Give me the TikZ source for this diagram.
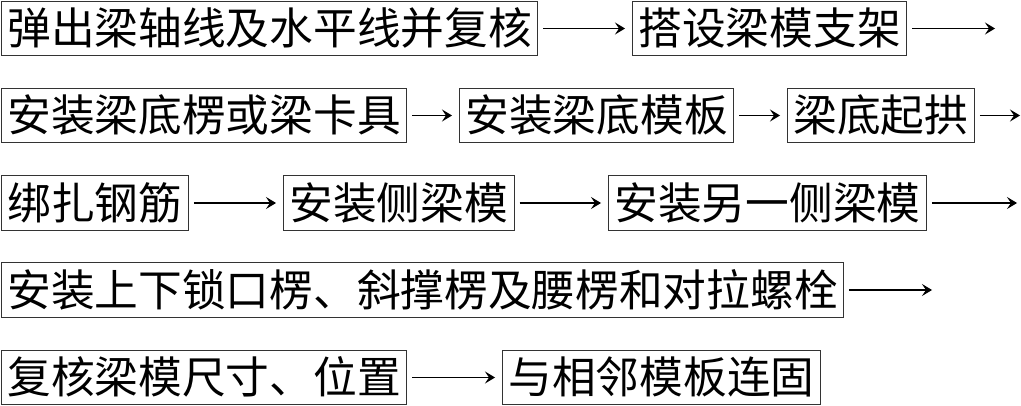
\documentclass[tikz,border=0pt]{standalone}
\usepackage{fontspec}
\usetikzlibrary{arrows.meta}
\newfontfamily\cjk{Noto Sans CJK SC}

\begin{document}
\begin{tikzpicture}[x=1pt,y=-1pt,>={Stealth[length=10pt,width=12pt,inset=4pt]},line width=1.1pt,
  stepbox/.style={draw=black!80,line width=1pt,anchor=west,inner xsep=6pt,inner ysep=5.6pt,
    font=\cjk\fontsize{43.7pt}{44pt}\selectfont,text height=38.2pt,text depth=5.5pt},
  flow/.style={->,shorten <=5pt},
  link/.style={flow,shorten >=7pt}]
  \useasboundingbox (0,0) rectangle (1021,406);
  % Row 1
  \node[stepbox] (tanxian) at (1,28.5) {弹出梁轴线及水平线并复核};
  \node[stepbox] (zhijia) at (632,28.5) {搭设梁模支架};
  \coordinate (end1) at (995,28.5);
  \draw[link] (tanxian) -- (zhijia);
  \draw[flow] (zhijia) -- (end1);
  % Row 2
  \node[stepbox] (dileng) at (1,115.5) {安装梁底楞或梁卡具};
  \node[stepbox] (dimo) at (459,115.5) {安装梁底模板};
  \node[stepbox] (qigong) at (787,115.5) {梁底起拱};
  \coordinate (end2) at (1020,115.5);
  \draw[link] (dileng) -- (dimo);
  \draw[link] (dimo) -- (qigong);
  \draw[flow] (qigong) -- (end2);
  % Row 3
  \node[stepbox] (gangjin) at (1,203) {绑扎钢筋};
  \node[stepbox] (cemo) at (283,203) {安装侧梁模};
  \node[stepbox] (lingce) at (608,203) {安装另一侧梁模};
  \coordinate (end3) at (1017,203);
  \draw[link] (gangjin) -- (cemo);
  \draw[link] (cemo) -- (lingce);
  \draw[flow] (lingce) -- (end3);
  % Row 4
  \node[stepbox] (suokou) at (1,290) {安装上下锁口楞、斜撑楞及腰楞和对拉螺栓};
  \coordinate (end4) at (932,290);
  \draw[flow] (suokou) -- (end4);
  % Row 5
  \node[stepbox] (fuhe) at (1,377.5) {复核梁模尺寸、位置};
  \node[stepbox] (liangu) at (502,377.5) {与相邻模板连固};
  \draw[link] (fuhe) -- (liangu);
\end{tikzpicture}
\end{document}
